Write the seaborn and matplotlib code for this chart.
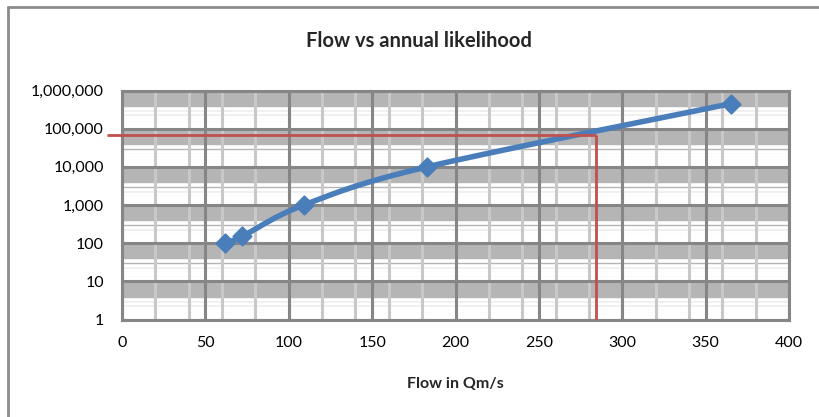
import numpy as np
import pandas as pd
import matplotlib
matplotlib.use("Agg")
import matplotlib.pyplot as plt
from matplotlib.lines import Line2D
import seaborn as sns

# ---- data ----
flow = [62, 72, 109, 183, 365]
likelihood = [100, 150, 1000, 10000, 450000]
x_ticks = [0, 50, 100, 150, 200, 250, 300, 350, 400]
y_ticks = [1, 10, 100, 1000, 10000, 100000, 1000000]
y_tick_labels = ["1", "10", "100", "1,000", "10,000", "100,000", "1,000,000"]
marker_flow = 284
marker_level = 70000
title = "Flow vs annual likelihood"
xlabel = "Flow in Qm/s"

sns.set_theme(style="white")
plt.rcParams["font.family"] = ["Lato", "DejaVu Sans"]

W, H = 819, 417
fig = plt.figure(figsize=(W / 100, H / 100), dpi=100)
L, R, T, B = 122, 789, 90.5, 319.5
ax = fig.add_axes([L / W, 1 - B / H, (R - L) / W, (B - T) / H])

BG = "#b5b5b5"
MAJ = "#868686"
MINV = "#c8c8c8"
BLUE = "#4a7ebb"
RED = "#c0504d"

ax.set_facecolor(BG)
ax.set_yscale("log")
ax.set_xlim(x_ticks[0], x_ticks[-1])
ax.set_ylim(y_ticks[0], y_ticks[-1])

# minor horizontal white lines (as drawn by the source chart)
for d in y_ticks[:-1]:
    for i in range(3, 10):
        ax.axhline(d * 10 / i, color="white", lw=2.6, zorder=0.5)
# minor vertical lines every 20
for xv in np.arange(20, x_ticks[-1], 20):
    ax.axvline(xv, color=MINV, lw=2.2, zorder=0.6)
# major grid
for xv in x_ticks:
    ax.axvline(xv, color=MAJ, lw=2.2, zorder=0.7)
for yv in y_ticks:
    ax.axhline(yv, color=MAJ, lw=2.2, zorder=0.7)

# smoothed curve (Bezier through points in x / log-y space, like Excel smoothing)
px = np.array(flow, float)
py = np.log10(np.array(likelihood, float))
P = np.column_stack([px, py])
P_ext = np.vstack([P[0], P, P[-1]])
sx, sy = [], []
t = np.linspace(0, 1, 40)
for k in range(1, len(P_ext) - 2):
    p0, p1, p2, p3 = P_ext[k - 1], P_ext[k], P_ext[k + 1], P_ext[k + 2]
    c1 = p1 + (p2 - p0) / 6
    c2 = p2 - (p3 - p1) / 6
    seg = ((1 - t) ** 3)[:, None] * p1 + (3 * (1 - t) ** 2 * t)[:, None] * c1 \
        + (3 * (1 - t) * t ** 2)[:, None] * c2 + (t ** 3)[:, None] * p2
    sx.extend(seg[:, 0]); sy.extend(seg[:, 1])
curve = pd.DataFrame({"x": sx, "y": 10 ** np.array(sy)})
sns.lineplot(data=curve, x="x", y="y", ax=ax, color=BLUE, lw=4.0,
             sort=False, zorder=3, solid_capstyle="round")
pts = pd.DataFrame({"flow": flow, "likelihood": likelihood})
sns.scatterplot(data=pts, x="flow", y="likelihood", ax=ax, marker="D",
                s=85, color=BLUE, edgecolor=BLUE, linewidth=1.5, zorder=4)

# red reference lines
ax.plot([-9, marker_flow], [marker_level, marker_level], color=RED, lw=2.0,
        zorder=3.5, clip_on=False, solid_capstyle="butt")
ax.plot([marker_flow, marker_flow], [y_ticks[0], marker_level], color=RED,
        lw=2.0, zorder=3.5, solid_capstyle="butt")

ax.set_xticks(x_ticks)
ax.set_xticklabels([str(v) for v in x_ticks])
ax.set_yticks(y_ticks)
ax.set_yticklabels(y_tick_labels)
ax.yaxis.set_minor_locator(matplotlib.ticker.NullLocator())
ax.tick_params(axis="both", which="major", direction="out", length=5,
               width=2, color=MAJ, labelsize=11.5, labelcolor="black", pad=7)
ax.tick_params(axis="y", pad=8)
for s in ax.spines.values():
    s.set_color(MAJ)
    s.set_linewidth(2.2)
    s.set_zorder(0.8)

ax.set_xlabel(xlabel, fontsize=11.5, fontweight="bold", labelpad=19)
ax.set_ylabel("")
fig.text(419 / W, 1 - 41 / H, title, ha="center", va="center",
         fontsize=14.5, fontweight="bold")

# outer chart border (left and top)
fig.add_artist(Line2D([8 / W, 8 / W], [0, 1 - 7 / H], transform=fig.transFigure,
                      color="#8c8c8c", lw=2))
fig.add_artist(Line2D([8 / W, 1], [1 - 7 / H, 1 - 7 / H], transform=fig.transFigure,
                      color="#8c8c8c", lw=2))

fig.savefig("out.png", dpi=100)
